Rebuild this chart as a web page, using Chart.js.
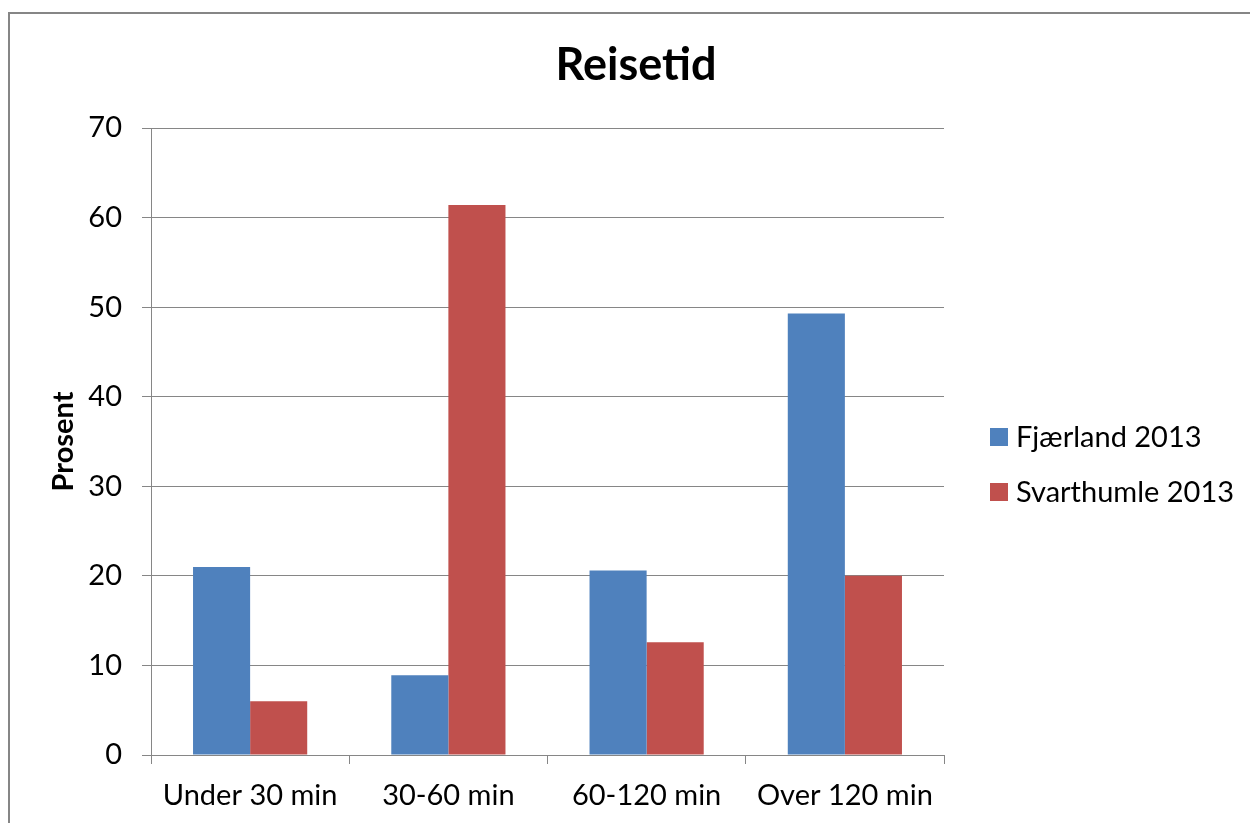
<!DOCTYPE html>
<html>
<head>
<meta charset="utf-8">
<script src="https://cdn.jsdelivr.net/npm/chart.js@4"></script>
<style>
  html, body { margin: 0; padding: 0; background: #ffffff; }
  #wrap { width: 1250px; height: 823px; position: relative; }
</style>
</head>
<body>
<div id="wrap"><canvas id="c" width="1250" height="823"></canvas></div>
<script>
const categories = ["Under 30 min", "30-60 min", "60-120 min", "Over 120 min"];
const seriesNames = ["Fjærland 2013", "Svarthumle 2013"];
const fjaerland = [21.0, 8.9, 20.6, 49.3];
const svarthumle = [6.0, 61.4, 12.6, 20.0];
const chartTitle = "Reisetid";
const yAxisTitle = "Prosent";
const yTicks = [0, 10, 20, 30, 40, 50, 60, 70];

const FONT = "Lato, 'Open Sans', 'DejaVu Sans', sans-serif";
const GRID = "#868686";

const frame = {
  id: "frame",
  beforeDraw(chart) {
    const ctx = chart.ctx;
    ctx.save();
    ctx.fillStyle = "#ffffff";
    ctx.fillRect(0, 0, chart.width, chart.height);
    ctx.strokeStyle = GRID;
    ctx.lineWidth = 2;
    ctx.beginPath();
    ctx.moveTo(9, 823);
    ctx.lineTo(9, 13);
    ctx.lineTo(1250, 13);
    ctx.stroke();
    ctx.restore();
  }
};

const headline = {
  id: "headline",
  afterDraw(chart) {
    const ctx = chart.ctx;
    ctx.save();
    ctx.font = "bold 45px " + FONT;
    ctx.fillStyle = "#000000";
    ctx.textAlign = "center";
    ctx.textBaseline = "middle";
    ctx.fillText(chartTitle, 636, 65);
    ctx.restore();
  }
};

const sideLegend = {
  id: "sideLegend",
  afterDraw(chart) {
    const ctx = chart.ctx;
    const ys = [437, 492];
    ctx.save();
    ctx.font = "29px " + FONT;
    ctx.textBaseline = "middle";
    ctx.textAlign = "left";
    chart.data.datasets.forEach((ds, i) => {
      const y = ys[i];
      ctx.fillStyle = ds.backgroundColor;
      ctx.fillRect(990, y - 9, 18, 18);
      ctx.fillStyle = "#000000";
      ctx.fillText(ds.label, 1016, y + 1);
    });
    ctx.restore();
  }
};

new Chart(document.getElementById("c"), {
  type: "bar",
  data: {
    labels: categories,
    datasets: [
      { label: seriesNames[0], data: fjaerland, backgroundColor: "#4F81BD", borderWidth: 0 },
      { label: seriesNames[1], data: svarthumle, backgroundColor: "#C0504D", borderWidth: 0 }
    ]
  },
  options: {
    responsive: false,
    animation: false,
    devicePixelRatio: 1,
    layout: { padding: { left: 8, right: 306, top: 128, bottom: 0 } },
    datasets: { bar: { barPercentage: 1.0, categoryPercentage: 0.576 } },
    plugins: {
      legend: { display: false },
      tooltip: { enabled: false },
      title: { display: false }
    },
    scales: {
      x: {
        grid: { display: true, drawOnChartArea: false, drawTicks: true, tickLength: 9, color: GRID, offset: true },
        border: { display: true, color: GRID, width: 1 },
        ticks: { color: "#000000", font: { family: FONT, size: 29 }, padding: 14, maxRotation: 0 },
        afterFit(s) { s.height = 68; }
      },
      y: {
        min: 0,
        max: 70,
        afterBuildTicks(s) { s.ticks = yTicks.map(v => ({ value: v })); },
        grid: { color: GRID, lineWidth: 1, tickLength: 9, drawTicks: true },
        border: { display: true, color: GRID, width: 1 },
        ticks: { color: "#000000", font: { family: FONT, size: 29 }, padding: 20 },
        title: {
          display: true,
          text: yAxisTitle,
          color: "#000000",
          font: { family: FONT, size: 29, weight: "bold" },
          padding: { top: 38, bottom: 0 }
        },
        afterFit(s) { s.width = 143; }
      }
    }
  },
  plugins: [frame, headline, sideLegend]
});
</script>
</body>
</html>
